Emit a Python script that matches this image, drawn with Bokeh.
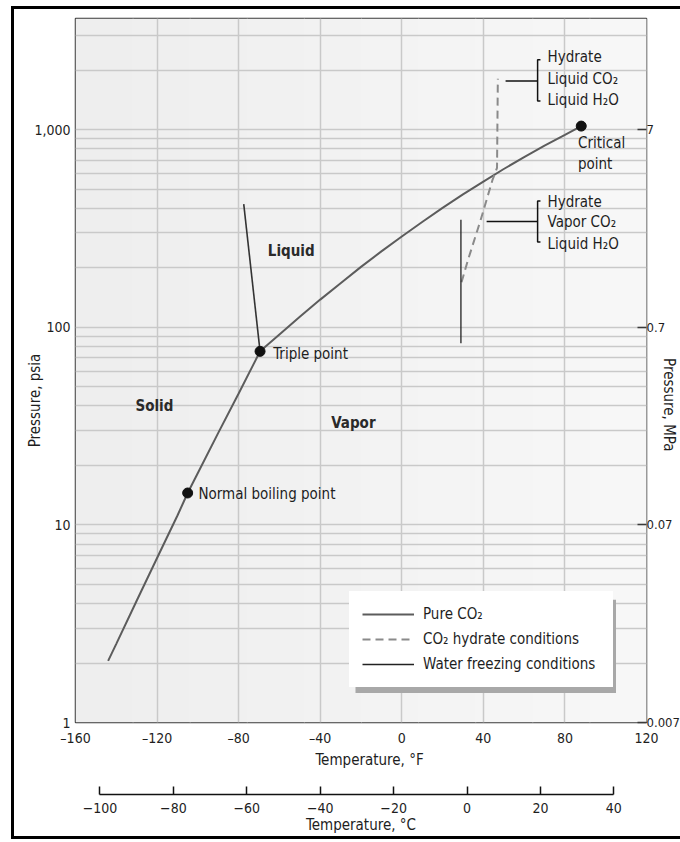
from bokeh.plotting import figure
from bokeh.models import (Range1d, LinearAxis, LogAxis, FixedTicker, Legend, LegendItem,
                          BoxAnnotation, Title, ColumnDataSource)
from bokeh.core.properties import value
from bokeh.embed import file_html
from bokeh.resources import INLINE

FONT = "DejaVu Sans Condensed, DejaVu Sans, sans-serif"
TXT = "#1e1e1e"
NB = "\u00a0"

# ---- axis ticks and labels ----
temp_ticks_F = [-160, -120, -80, -40, 0, 40, 80, 120]
temp_labels_F = ["–160", "–120", "–80", "–40", "0", "40", "80", "120"]
temp_ticks_C = [-100, -80, -60, -40, -20, 0, 20, 40]
psia_ticks = [1, 10, 100, 1000]
psia_labels = ["1", "10", "100", "1,000"]
mpa_labels = ["0.007", "0.07", "0.7", "7"]
psia_minor = [m * d for d in (1, 10, 100, 1000) for m in range(2, 10) if m * d < 3650]

# ---- phase boundaries (temperature °F, pressure psia) ----
# sublimation curve up to the triple point, then vapour pressure up to the critical point
co2_T = [-144, -140, -130, -120, -110, -105, -100, -90, -80, -69.5,
         -60, -50, -40, -30, -20, -10, 0, 10, 20, 30, 40, 50, 60, 70, 80, 88]
co2_P = [2.05, 2.5, 4.13, 6.8, 11.15, 14.5, 18.3, 29.2, 46.2, 75.5,
         92, 113, 138, 167, 202, 242, 288, 341, 402, 470, 546, 632, 726, 829, 941, 1042]
melt_T = [-69.5, -77.5]
melt_P = [75.5, 420]
hydrate_T = [29.3, 32.4, 38.6, 44.4, 46.7, 47.1]
hydrate_P = [169, 218, 347, 553, 640, 1810]
freeze_T = [29, 29]
freeze_P = [83, 350]

# ---- marked points: normal boiling, triple, critical ----
point_T = [-105, -69.5, 88]
point_P = [14.5, 75.5, 1042]

# ---- text labels ----
note_text = ["Normal boiling point", "Triple point", "Critical", "point"]
note_T = [-99.7, -63.0, 86.4, 86.4]
note_P = [14.4, 73.4, 858, 672]
region_text = ["Liquid", "Solid", "Vapor"]
region_T = [-65.7, -130.6, -34.6]
region_P = [242, 39.9, 32.6]

# hydrate stability notes with bracket leaders
upper_text = ["Hydrate", "Liquid CO₂", "Liquid H₂O"]
upper_P = [2328, 1795, 1406]
lower_text = ["Hydrate", "Vapor CO₂", "Liquid H₂O"]
lower_P = [430, 340, 265]
bracket_T_text = 71.5
upper_leader_T = [50.9, 66.7]
upper_leader_P = 1760
upper_brk_P = [2258, 1394]
lower_leader_T = [41.6, 66.5]
lower_leader_P = 343
lower_brk_P = [435, 270]
brk_T = 66.6
brk_tip_T = 68.0

C_start = (-160 - 32) / 1.8
C_end = (120 - 32) / 1.8

p = figure(width=669, height=833, x_range=Range1d(-160, 120), y_range=Range1d(1, 3650),
           y_axis_type="log", output_backend="svg", toolbar_location=None,
           min_border_left=64, min_border_right=34, min_border_top=12, min_border_bottom=117,
           background_fill_color="#f3f3f3", border_fill_color=None)
# black page frame on the left, top and bottom
p.styles = {"margin-left": "11px", "margin-top": "6px",
            "box-shadow": "inset 3px 3px 0 0 #000, inset 0 -3px 0 0 #000"}
p.extra_x_ranges = {"C": Range1d(C_start, C_end)}
p.outline_line_color = "#3a3a3a"
p.outline_line_width = 1.5

# faint left-to-right shading of the plotting area
shade = ["#eeeeee", "#efefef", "#f0f0f0", "#f1f1f1", "#f2f2f2",
         "#f3f3f3", "#f4f4f4", "#f5f5f5", "#f6f6f6", "#f7f7f7"]
band = 571 / len(shade)
for i, c in enumerate(shade):
    p.add_layout(BoxAnnotation(left=i * band, right=(i + 1) * band + 1,
                               left_units="screen", right_units="screen",
                               fill_color=c, fill_alpha=1, line_color=None, level="image"))

# grids
p.xgrid.ticker = FixedTicker(ticks=temp_ticks_F)
p.ygrid.ticker = FixedTicker(ticks=psia_ticks, minor_ticks=psia_minor)
for g in (p.xgrid, p.ygrid):
    g.grid_line_color = "#c9c9c9"
    g.grid_line_width = 1.5
p.ygrid.minor_grid_line_color = "#c9c9c9"
p.ygrid.minor_grid_line_width = 1.5

# bottom °F axis
xa = p.xaxis[0]
xa.ticker = FixedTicker(ticks=temp_ticks_F)
xa.major_label_overrides = dict(zip(temp_ticks_F, temp_labels_F))
xa.major_tick_out = 0
xa.major_tick_in = 0
xa.minor_tick_out = 0
xa.minor_tick_in = 0
xa.axis_line_color = None
xa.major_label_standoff = 7
xa.axis_label = NB * 4 + "Temperature, °F"
xa.axis_label_standoff = 2

# left psia axis
ya = p.yaxis[0]
ya.ticker = FixedTicker(ticks=psia_ticks)
ya.major_label_overrides = dict(zip(psia_ticks, psia_labels))
ya.major_tick_out = 0
ya.major_tick_in = 0
ya.minor_tick_out = 0
ya.minor_tick_in = 0
ya.axis_line_color = None
ya.major_label_standoff = 5
ya.axis_label = "Pressure, psia" + NB * 14
ya.axis_label_standoff = -13

# right MPa axis
ra = LogAxis(ticker=FixedTicker(ticks=psia_ticks))
ra.major_label_overrides = dict(zip(psia_ticks, mpa_labels))
ra.major_tick_in = 9
ra.major_tick_out = 0
ra.minor_tick_in = 0
ra.minor_tick_out = 0
ra.major_tick_line_color = "#3a3a3a"
ra.major_tick_line_width = 1.5
ra.axis_line_color = None
ra.major_label_standoff = 0
ra.axis_label = NB * 16 + "Pressure, MPa"
ra.axis_label_standoff = -23
p.add_layout(ra, "right")

# spacer between the two temperature scales
p.add_layout(Title(text=" ", text_font_size="19px", standoff=0), "below")

# °C axis
ca = LinearAxis(x_range_name="C", ticker=FixedTicker(ticks=temp_ticks_C), bounds=(-100, 40))
ca.major_tick_in = 8
ca.major_tick_out = 0
ca.minor_tick_in = 0
ca.minor_tick_out = 0
ca.axis_line_color = "#111111"
ca.axis_line_width = 1.5
ca.major_tick_line_color = "#111111"
ca.major_tick_line_width = 1.5
ca.major_label_standoff = 8
ca.axis_label = "Temperature, °C"
ca.axis_label_standoff = 0
p.add_layout(ca, "below")

for ax in (xa, ya, ra, ca):
    ax.major_label_text_font = FONT
    ax.major_label_text_font_size = "14px"
    ax.major_label_text_color = TXT
    ax.axis_label_text_font = FONT
    ax.axis_label_text_font_size = "15px"
    ax.axis_label_text_font_style = "normal"
    ax.axis_label_text_color = TXT
ra.major_label_text_font_size = "13px"

# curves
r_co2 = p.line(co2_T, co2_P, line_color="#5c5c5c", line_width=2)
p.line(melt_T, melt_P, line_color="#333333", line_width=1.6)
r_hyd = p.line(hydrate_T, hydrate_P, line_color="#8a8a8a", line_width=2, line_dash="8 5")
r_frz = p.line(freeze_T, freeze_P, line_color="#222222", line_width=1.3)
p.scatter(point_T, point_P, size=10, fill_color="#111111", line_color="#111111")

# brackets for the hydrate notes
brk_xs = [upper_leader_T, [brk_tip_T, brk_T, brk_T, brk_tip_T],
          lower_leader_T, [brk_tip_T, brk_T, brk_T, brk_tip_T]]
brk_ys = [[upper_leader_P] * 2, [upper_brk_P[0], upper_brk_P[0], upper_brk_P[1], upper_brk_P[1]],
          [lower_leader_P] * 2, [lower_brk_P[0], lower_brk_P[0], lower_brk_P[1], lower_brk_P[1]]]
p.multi_line(brk_xs, brk_ys, line_color="#111111", line_width=1.5)

notes = ColumnDataSource(dict(x=note_T + [bracket_T_text] * 6, y=note_P + upper_P + lower_P,
                              t=note_text + upper_text + lower_text))
p.text("x", "y", text="t", source=notes, text_font=value(FONT), text_font_size="15px",
       text_color=TXT, text_align="left", text_baseline="middle")
regions = ColumnDataSource(dict(x=region_T, y=region_P, t=region_text))
p.text("x", "y", text="t", source=regions, text_font=value(FONT), text_font_size="15px",
       text_font_style="bold", text_color="#2a2a2a", text_align="left", text_baseline="middle")

# legend with a drop shadow
p.add_layout(BoxAnnotation(left=280, right=540.5, bottom=29.5, top=122.7,
                           left_units="screen", right_units="screen",
                           bottom_units="screen", top_units="screen",
                           fill_color="#a8a8a8", fill_alpha=1, line_color=None))
legend = Legend(items=[LegendItem(label="Pure CO₂", renderers=[r_co2]),
                       LegendItem(label="CO₂ hydrate conditions", renderers=[r_hyd]),
                       LegendItem(label="Water freezing conditions", renderers=[r_frz])],
                location=(274, 35), padding=12, spacing=5, margin=0,
                label_height=20, glyph_height=20, glyph_width=52, label_standoff=9,
                label_width=177, background_fill_color="white", background_fill_alpha=1,
                border_line_color="white", border_line_width=1,
                label_text_font=FONT, label_text_font_size="15px", label_text_color=TXT)
p.add_layout(legend, "center")

open("out.html", "w").write(file_html(p, INLINE))
